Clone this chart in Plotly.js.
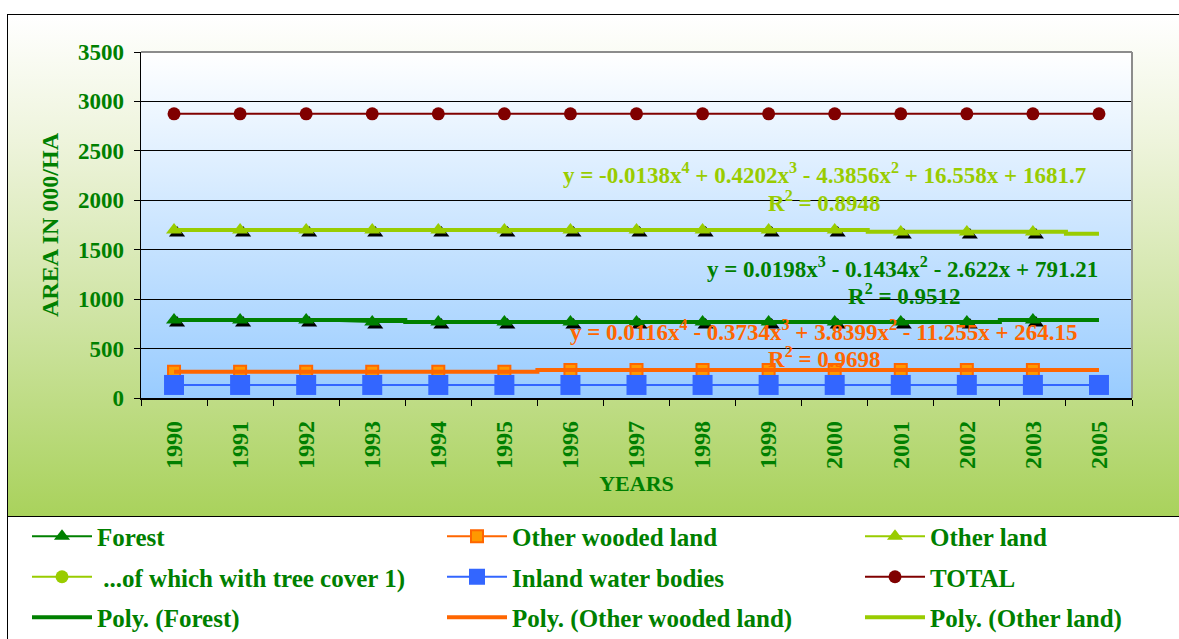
<!DOCTYPE html>
<html><head><meta charset="utf-8">
<script src="https://cdn.plot.ly/plotly-3.0.1.min.js"></script>
<style>
html,body{margin:0;padding:0;background:#fff;width:1179px;height:639px;overflow:hidden}
#bg{position:absolute;left:7px;top:14px;width:1172px;height:501px;border-left:1px solid #000;border-top:1px solid #000;border-bottom:1px solid #000;
 background:linear-gradient(to bottom,#ffffff 0%,#eef4dc 25%,#cfe4a4 60%,#a9d25c 100%);}
#lg{position:absolute;left:7px;top:517px;width:1172px;height:122px;border-left:1px solid #000;background:#fff}
#chart{position:absolute;left:0;top:0;width:1179px;height:639px}
</style></head>
<body>
<div id="bg"></div><div id="lg"></div><div id="chart"></div>
<script>
// ---- data ----
const years = ['1990','1991','1992','1993','1994','1995','1996','1997','1998','1999','2000','2001','2002','2003','2005'];
const forest = [790,790,790,770,770,770,770,770,770,770,770,770,770,790,null];
const otherWoodedLand = [265,265,265,265,265,265,283,283,283,283,283,283,283,283,null];
const otherLand = [1700,1700,1700,1700,1700,1700,1700,1700,1700,1700,1700,1680,1680,1680,null];
const treeCover = [null,null,null,null,null,null,null,null,null,null,null,null,null,null,null];
const inlandWater = [132,132,132,132,132,132,132,132,132,132,132,132,132,132,132];
const total = [2875,2875,2875,2875,2875,2875,2875,2875,2875,2875,2875,2875,2875,2875,2875];
const polyForest = [790,790,790,790,770,770,770,770,770,770,770,770,770,790,790];
const polyOtherWooded = [265,265,265,265,265,265,283,283,283,283,283,283,283,283,283];
const polyOtherLand = [1700,1700,1700,1700,1700,1700,1700,1700,1700,1700,1700,1682,1682,1682,1662];
const yTicks = [0,500,1000,1500,2000,2500,3000,3500];
const eqOtherLand = 'y = -0.0138x<sup>4</sup> + 0.4202x<sup>3</sup> - 4.3856x<sup>2</sup> + 16.558x + 1681.7';
const r2OtherLand = 'R<sup>2</sup> = 0.8948';
const eqForest = 'y = 0.0198x<sup>3</sup> - 0.1434x<sup>2</sup> - 2.622x + 791.21';
const r2Forest = 'R<sup>2</sup> = 0.9512';
const eqOtherWooded = 'y = 0.0116x<sup>4</sup> - 0.3734x<sup>3</sup> + 3.8399x<sup>2</sup> - 11.255x + 264.15';
const r2OtherWooded = 'R<sup>2</sup> = 0.9698';

// ---- geometry ----
const W=1179,H=639,L=141,R=47,T=52,B=241;
const PW=W-L-R, PH=H-T-B;
const YMAX=3500;
const px = x => (x-L)/PW;
const py = y => (H-B-y)/PH;
const FONT = '"Liberation Serif","Times New Roman",serif';
const GREEN='#008000';
const sdx=3, sdy=3;
const xr=[-0.5,years.length-0.5];
const n=years.length;
const shX=[xr[0]-sdx*n/PW, xr[1]-sdx*n/PW];
const shY=[0+sdy*YMAX/PH, YMAX+sdy*YMAX/PH];
const NB='\u00a0';

const tri=(c)=>({symbol:'triangle-up',size:14,color:c});
const traces=[
 // shadows (base subplot)
 {x:years,y:forest,type:'scatter',mode:'markers',xaxis:'x',yaxis:'y',marker:{symbol:'triangle-up',size:14,color:'#000'},showlegend:false,hoverinfo:'skip'},
 {x:years,y:otherLand,type:'scatter',mode:'markers',xaxis:'x',yaxis:'y',marker:{symbol:'triangle-up',size:14,color:'#000'},showlegend:false,hoverinfo:'skip'},
 // main
 {x:years,y:forest,name:'Forest',legendgroup:'a1',type:'scatter',mode:'lines+markers',xaxis:'x2',yaxis:'y2',line:{color:'#008000',width:2},marker:tri('#008000'),legend:'legend'},
 {x:years,y:otherWoodedLand,name:'Other wooded land',legendgroup:'b1',type:'scatter',mode:'lines+markers',xaxis:'x2',yaxis:'y2',line:{color:'#ff6600',width:2},marker:{symbol:'square',size:12,color:'#ff9900',line:{color:'#ff6600',width:2}},legend:'legend2'},
 {x:years,y:otherLand,name:'Other land',legendgroup:'c1',type:'scatter',mode:'lines+markers',xaxis:'x2',yaxis:'y2',line:{color:'#99cc00',width:2},marker:tri('#99cc00'),legend:'legend3'},
 {x:years,y:treeCover,name:NB+'...of which with tree cover 1)',legendgroup:'a2',type:'scatter',mode:'lines+markers',xaxis:'x2',yaxis:'y2',line:{color:'#99cc00',width:2},marker:{symbol:'circle',size:13,color:'#99cc00'},legend:'legend'},
 {x:years,y:inlandWater,name:'Inland water bodies',legendgroup:'b2',type:'scatter',mode:'lines+markers',xaxis:'x2',yaxis:'y2',line:{color:'#3366ff',width:2},marker:{symbol:'square',size:20,color:'#3366ff'},legend:'legend2'},
 {x:years,y:total,name:'TOTAL',legendgroup:'c2',type:'scatter',mode:'lines+markers',xaxis:'x2',yaxis:'y2',line:{color:'#800000',width:2},marker:{symbol:'circle',size:13,color:'#800000'},legend:'legend3'},
 {x:years,y:polyForest,name:'Poly. (Forest)',legendgroup:'a3',type:'scatter',mode:'lines',line:{color:'#008000',width:4,shape:'hvh'},xaxis:'x2',yaxis:'y2',legend:'legend'},
 {x:years,y:polyOtherWooded,name:'Poly. (Other wooded land)',legendgroup:'b3',type:'scatter',mode:'lines',line:{color:'#ff6600',width:4,shape:'hvh'},xaxis:'x2',yaxis:'y2',legend:'legend2'},
 {x:years,y:polyOtherLand,name:'Poly. (Other land)',legendgroup:'c3',type:'scatter',mode:'lines',line:{color:'#99cc00',width:4,shape:'hvh'},xaxis:'x2',yaxis:'y2',legend:'legend3'}
];

const svg="<svg xmlns='http://www.w3.org/2000/svg' width='100' height='100' preserveAspectRatio='none'><defs><linearGradient id='g' x1='0' y1='0' x2='0' y2='1'><stop offset='0' stop-color='#ffffff'/><stop offset='1' stop-color='#99ccff'/></linearGradient></defs><rect width='100' height='100' fill='url(#g)'/></svg>";
const img='data:image/svg+xml;charset=utf-8,'+encodeURIComponent(svg);

const legBase = (x)=>({x:px(x),y:py(577),xanchor:'left',yanchor:'middle',orientation:'v',itemwidth:60,tracegroupgap:5,bgcolor:'rgba(0,0,0,0)',font:{family:FONT,size:25,color:GREEN,weight:'bold'},traceorder:'grouped'});
const ann=(t,x,y,c)=>({text:t,xref:'paper',yref:'paper',x:px(x),y:py(y),xanchor:'center',yanchor:'middle',showarrow:false,font:{family:FONT,size:23,color:c,weight:'bold'}});
const hidden={visible:false,showticklabels:false,ticks:'',showgrid:false,showline:false,zeroline:false,fixedrange:true};

const layout={
 width:W,height:H,margin:{l:L,r:R,t:T,b:B,pad:0,autoexpand:false},
 paper_bgcolor:'rgba(0,0,0,0)',plot_bgcolor:'rgba(0,0,0,0)',
 font:{family:FONT,color:GREEN,weight:'bold'},
 showlegend:true,
 xaxis:Object.assign({type:'category',categoryarray:years,range:shX},hidden),
 yaxis:Object.assign({range:shY},hidden),
 xaxis2:{type:'category',categoryarray:years,range:xr,overlaying:'x',showline:true,linecolor:'#000',linewidth:1.5,ticks:'outside',tickson:'boundaries',ticklen:6,tickcolor:'#000',showgrid:false,tickangle:-90,
   tickfont:{family:FONT,size:24,color:GREEN,weight:'bold'},ticklabelstandoff:12,
   title:{text:'YEARS',font:{family:FONT,size:22,color:GREEN,weight:'bold'},standoff:7},zeroline:false},
 yaxis2:{range:[0,YMAX],overlaying:'y',tickvals:yTicks,showline:true,linecolor:'#000',linewidth:1.5,ticks:'outside',ticklen:6,tickcolor:'#000',
   showgrid:true,gridcolor:'#000',gridwidth:1,zeroline:false,
   tickfont:{family:FONT,size:23,color:GREEN,weight:'bold'},ticklabelstandoff:5,
   title:{text:'AREA IN 000/HA',font:{family:FONT,size:24,color:GREEN,weight:'bold'},standoff:12}},
 images:[{source:img,xref:'paper',yref:'paper',x:0,y:1,sizex:1,sizey:1,sizing:'stretch',layer:'below'}],
 shapes:[
  {type:'line',xref:'paper',yref:'paper',x0:0,x1:1,y0:1,y1:1,line:{color:'#8c8c8c',width:2}},
  {type:'line',xref:'paper',yref:'paper',x0:1,x1:1,y0:0,y1:1,line:{color:'#8c8c8c',width:2}}
 ],
 annotations:[
  ann(eqOtherLand,824,173,'#99cc00'),ann(r2OtherLand,824,202,'#99cc00'),
  ann(eqForest,902,267,'#008000'),ann(r2Forest,904,294,'#008000'),
  ann(eqOtherWooded,824,330,'#ff6600'),ann(r2OtherWooded,824,357,'#ff6600')
 ],
 legend:legBase(27),legend2:legBase(442),legend3:legBase(860)
};
Plotly.newPlot('chart',traces,layout,{staticPlot:true,displayModeBar:false});
</script>
</body></html>
